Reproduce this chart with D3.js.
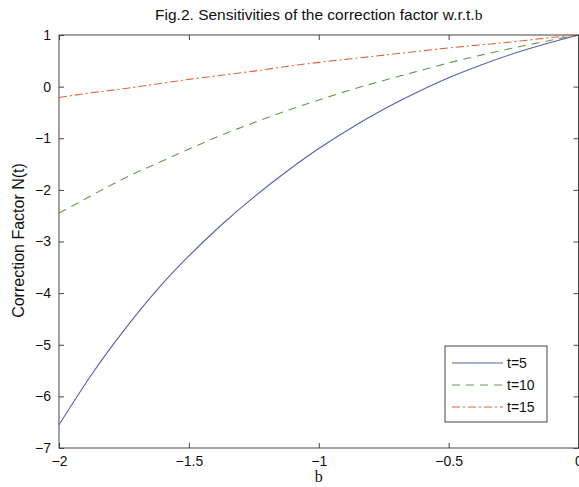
<!DOCTYPE html>
<html>
<head>
<meta charset="utf-8">
<script src="https://cdn.jsdelivr.net/npm/d3@7"></script>
<style>
	body { margin: 0; background: #fff; }
	text { font-family: "Liberation Sans", Arial, sans-serif; fill: #111; }
</style>
</head>
<body>
<div id="chart"></div>
<script>
var width = 579,
	height = 487;

// b values and read-off curves
var bValues = [-2, -1.875, -1.75, -1.625, -1.5, -1.375, -1.25, -1.125, -1, -0.875, -0.75, -0.625, -0.5, -0.375, -0.25, -0.125, 0];
var t5 = [-6.55, -5.58, -4.72, -3.95, -3.28, -2.68, -2.14, -1.65, -1.20, -0.80, -0.44, -0.12, 0.17, 0.42, 0.64, 0.83, 1];
var t10 = [-2.45, -2.11, -1.78, -1.49, -1.21, -0.94, -0.70, -0.47, -0.26, -0.06, 0.12, 0.29, 0.46, 0.61, 0.75, 0.88, 1];
var t15 = [-0.21, -0.12, -0.04, 0.05, 0.14, 0.22, 0.30, 0.39, 0.47, 0.54, 0.61, 0.68, 0.75, 0.81, 0.87, 0.94, 1];

var seriesNames = ['t=5', 't=10', 't=15'];
var xTicks = [-2, -1.5, -1, -0.5, 0];
var yTicks = [-7, -6, -5, -4, -3, -2, -1, 0, 1];

var series = [
	{ name: seriesNames[0], values: t5, color: '#5a5cb2', dash: null },
	{ name: seriesNames[1], values: t10, color: '#6a9650', dash: '8,6' },
	{ name: seriesNames[2], values: t15, color: '#e4623a', dash: '8,3,2,3' }
];

var plotLeft = 59, plotRight = 578.5, plotTop = 35, plotBottom = 448;

var svg = d3.select('#chart').append('svg')
	.attr('width', width)
	.attr('height', height);

var x = d3.scaleLinear().domain([-2, 0]).range([plotLeft, plotRight]);
var y = d3.scaleLinear().domain([-7, 1]).range([plotBottom, plotTop]);

// frame
svg.append('rect')
	.attr('x', plotLeft).attr('y', plotTop)
	.attr('width', plotRight - plotLeft).attr('height', plotBottom - plotTop)
	.attr('fill', 'none')
	.attr('stroke', '#444')
	.attr('stroke-width', 1);

var line = d3.line()
	.x(function(d, i) { return x(bValues[i]); })
	.y(function(d) { return y(d); })
	.curve(d3.curveNatural);

svg.append('g').selectAll('path')
	.data(series)
	.enter()
	.append('path')
	.attr('d', function(d) { return line(d.values); })
	.attr('fill', 'none')
	.attr('stroke', function(d) { return d.color; })
	.attr('stroke-width', 1.1)
	.attr('stroke-dasharray', function(d) { return d.dash; });

// axes with inward ticks
var fmt = d3.format('');
svg.append('g')
	.attr('transform', 'translate(0,' + plotBottom + ')')
	.call(d3.axisBottom(x).tickValues(xTicks).tickSizeInner(-5).tickSizeOuter(0).tickPadding(8).tickFormat(fmt))
	.call(function(g) {
		g.select('.domain').remove();
		g.selectAll('line').attr('stroke', '#444');
		g.selectAll('text').attr('font-size', 14).attr('fill', '#111');
	});
svg.append('g')
	.attr('transform', 'translate(0,' + plotTop + ')')
	.call(d3.axisTop(x).tickValues(xTicks).tickSizeInner(-5).tickSizeOuter(0).tickFormat(''))
	.call(function(g) {
		g.select('.domain').remove();
		g.selectAll('line').attr('stroke', '#444');
	});
svg.append('g')
	.attr('transform', 'translate(' + plotLeft + ',0)')
	.call(d3.axisLeft(y).tickValues(yTicks).tickSizeInner(-5).tickSizeOuter(0).tickPadding(8).tickFormat(fmt))
	.call(function(g) {
		g.select('.domain').remove();
		g.selectAll('line').attr('stroke', '#444');
		g.selectAll('text').attr('font-size', 14).attr('fill', '#111');
	});
svg.append('g')
	.attr('transform', 'translate(' + plotRight + ',0)')
	.call(d3.axisRight(y).tickValues(yTicks).tickSizeInner(-5).tickSizeOuter(0).tickFormat(''))
	.call(function(g) {
		g.select('.domain').remove();
		g.selectAll('line').attr('stroke', '#444');
	});

// title
var title = svg.append('text')
	.attr('x', (plotLeft + plotRight) / 2)
	.attr('y', 20)
	.attr('text-anchor', 'middle')
	.attr('font-size', 15.5);
title.append('tspan').text('Fig.2. Sensitivities of the correction factor w.r.t.');
title.append('tspan').style('font-family', '"Liberation Serif", serif').text('b');

// axis labels
svg.append('text')
	.attr('x', (plotLeft + plotRight) / 2)
	.attr('y', 482)
	.attr('text-anchor', 'middle')
	.attr('font-size', 16)
	.style('font-family', '"Liberation Serif", serif')
	.text('b');

svg.append('text')
	.attr('transform', 'translate(24,' + ((plotTop + plotBottom) / 2 - 1) + ') rotate(-90)')
	.attr('text-anchor', 'middle')
	.attr('font-size', 16)
	.text('Correction Factor N(t)');

// legend
var legend = svg.append('g').attr('transform', 'translate(445,346)');
legend.append('rect')
	.attr('width', 102).attr('height', 76)
	.attr('fill', '#fff')
	.attr('stroke', '#444');
var rows = legend.selectAll('g.row')
	.data(series)
	.enter()
	.append('g')
	.attr('transform', function(d, i) { return 'translate(0,' + (17 + i * 22) + ')'; });
rows.append('line')
	.attr('x1', 7).attr('x2', 58)
	.attr('stroke', function(d) { return d.color; })
	.attr('stroke-width', 1.1)
	.attr('stroke-dasharray', function(d) { return d.dash; });
rows.append('text')
	.attr('x', 62)
	.attr('dy', '0.35em')
	.attr('font-size', 14)
	.text(function(d) { return d.name; });
</script>
</body>
</html>
